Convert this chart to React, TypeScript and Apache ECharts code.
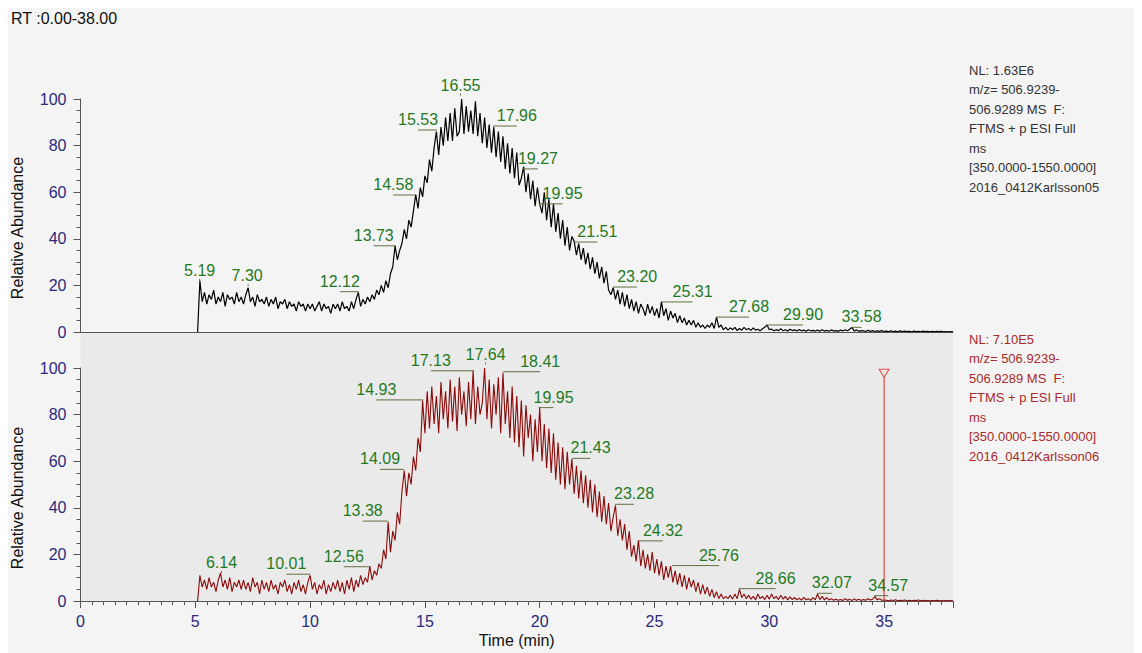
import React, { useEffect, useRef } from "react";
import * as echarts from "echarts";

// ---------------- DATA ----------------
// retention time sampling of the traces (minutes)
const RT_START = 5.1;
const RT_STEP = 0.1;

// Relative abundance, top chromatogram (Karlsson05), one row per minute (x.1 .. x+1.0)
const TOP_ABUNDANCE = [
  0, 22, 13, 17, 12, 16, 14, 18, 12, 15, // 5.1-6.0
  13, 17, 11, 16, 14, 15, 12, 17, 13, 15, // 6.1-7.0
  12, 16, 19, 13, 15, 11, 16, 13, 14, 12, // 7.1-8.0
  15, 11, 14, 12, 15, 10, 13, 12, 14, 10, // 8.1-9.0
  13, 11, 12, 9, 13, 11, 12, 9, 12, 10, // 9.1-10.0
  12, 9, 11, 13, 9, 12, 10, 11, 8, 12, // 10.1-11.0
  10, 12, 9, 13, 10, 11, 9, 13, 10, 14, // 11.1-12.0
  17, 11, 14, 12, 15, 13, 16, 14, 18, 16, // 12.1-13.0
  20, 17, 22, 19, 25, 28, 37, 31, 35, 38, // 13.1-14.0
  44, 40, 48, 45, 52, 59, 53, 62, 58, 67, // 14.1-15.0
  64, 74, 69, 79, 86, 76, 88, 80, 92, 82, // 15.1-16.0
  94, 82, 96, 84, 86, 100, 85, 97, 86, 95, // 16.1-17.0
  85, 99, 84, 94, 81, 92, 79, 89, 77, 88, // 17.1-18.0
  75, 86, 73, 84, 70, 81, 68, 79, 66, 77, // 18.1-19.0
  63, 66, 71, 60, 68, 57, 65, 54, 62, 55, // 19.1-20.0
  51, 60, 48, 57, 45, 55, 43, 51, 40, 48, // 20.1-21.0
  37, 45, 35, 41, 39, 33, 38, 31, 36, 29, // 21.1-22.0
  34, 27, 32, 25, 30, 23, 28, 21, 26, 18, // 22.1-23.0
  16, 19, 14, 18, 12, 17, 11, 16, 10, 14, // 23.1-24.0
  9, 13, 8, 12, 10, 7, 12, 8, 11, 7, // 24.1-25.0
  10, 6, 13, 7, 10, 5, 9, 6, 8, 4, // 25.1-26.0
  7, 4, 6, 3, 5, 3, 5, 2, 4, 2, // 26.1-27.0
  3, 1.5, 3, 2, 4, 1.5, 6.4, 2, 3, 1, // 27.1-28.0
  2, 0.8, 1.8, 1, 2, 0.6, 1.5, 0.8, 2, 1, // 28.1-29.0
  1.5, 0.7, 1.8, 0.8, 1.2, 0.5, 1.4, 2, 3, 1, // 29.1-30.0
  1.2, 0.5, 1, 0.6, 1.4, 0.5, 1, 0.4, 1.2, 0.6, // 30.1-31.0
  0.9, 0.4, 1.1, 0.5, 0.8, 0.3, 1, 0.5, 0.7, 0.4, // 31.1-32.0
  0.8, 0.3, 1, 0.4, 0.7, 0.3, 0.9, 0.5, 0.6, 0.3, // 32.1-33.0
  0.8, 0.4, 1, 0.5, 1.2, 2, 0.4, 0.9, 0.3, 0.6, // 33.1-34.0
  0.5, 0.2, 0.7, 0.3, 0.6, 0.2, 0.5, 0.3, 0.6, 0.2, // 34.1-35.0
  0.4, 0.2, 0.5, 0.2, 0.4, 0.1, 0.5, 0.2, 0.4, 0.2, // 35.1-36.0
  0.3, 0.1, 0.4, 0.2, 0.3, 0.1, 0.4, 0.2, 0.3, 0.1, // 36.1-37.0
  0.3, 0.1, 0.3, 0.2, 0.3, 0.1, 0.2, 0.1, 0.2, 0.1, // 37.1-38.0
];

// Relative abundance, bottom chromatogram (Karlsson06)
const BOTTOM_ABUNDANCE = [
  0, 11, 6, 9, 5, 10, 6, 8, 4, 9, // 5.1-6.0
  12, 6, 9, 5, 10, 4, 8, 6, 9, 5, // 6.1-7.0
  9, 5, 8, 4, 10, 6, 8, 3, 9, 5, // 7.1-8.0
  8, 4, 9, 5, 7, 3, 8, 6, 9, 4, // 8.1-9.0
  7, 3, 8, 5, 9, 4, 7, 3, 8, 11, // 9.1-10.0
  5, 8, 3, 7, 5, 9, 3, 7, 4, 8, // 10.1-11.0
  5, 9, 4, 8, 3, 9, 5, 10, 4, 9, // 11.1-12.0
  6, 11, 7, 10, 8, 15, 9, 13, 11, 16, // 12.1-13.0
  14, 22, 18, 34, 21, 30, 26, 38, 33, 47, // 13.1-14.0
  56, 45, 55, 50, 62, 56, 70, 64, 86, 72, // 14.1-15.0
  90, 74, 92, 76, 88, 72, 94, 78, 90, 74, // 15.1-16.0
  95, 77, 92, 73, 96, 80, 90, 75, 94, 78, // 16.1-17.0
  99, 76, 92, 80, 85, 100, 78, 95, 74, 93, // 17.1-18.0
  80, 96, 72, 98, 76, 90, 70, 92, 68, 88, // 18.1-19.0
  66, 86, 62, 84, 70, 80, 60, 78, 64, 83, // 19.1-20.0
  60, 76, 57, 74, 55, 72, 52, 68, 50, 66, // 20.1-21.0
  48, 64, 50, 61, 46, 58, 44, 56, 42, 54, // 21.1-22.0
  40, 52, 38, 50, 36, 47, 34, 45, 33, 42, // 22.1-23.0
  30, 36, 41, 28, 35, 26, 33, 22, 30, 19, // 23.1-24.0
  24, 17, 26, 15, 22, 14, 20, 13, 21, 12, // 24.1-25.0
  18, 11, 17, 9, 15, 10, 15, 8, 13, 7, // 25.1-26.0
  12, 6, 11, 5, 10, 6, 9, 4, 8, 3, // 26.1-27.0
  7, 3, 6, 2, 5, 1.5, 4, 1, 3, 1, // 27.1-28.0
  2, 1, 2.5, 0.8, 3, 1, 5, 1.5, 3, 1, // 28.1-29.0
  2.5, 0.8, 2, 0.5, 3, 1, 2, 0.6, 2.5, 0.8, // 29.1-30.0
  3, 1, 2, 0.6, 2.5, 0.8, 2, 0.5, 1.8, 0.6, // 30.1-31.0
  1.5, 0.5, 1.2, 0.4, 1.6, 0.5, 1, 0.3, 1.4, 0.5, // 31.1-32.0
  3, 0.6, 2, 0.5, 1.5, 0.4, 1, 0.3, 0.8, 0.3, // 32.1-33.0
  0.6, 0.2, 1, 0.3, 0.7, 0.2, 0.9, 0.3, 0.8, 0.2, // 33.1-34.0
  0.6, 0.3, 1, 0.4, 0.8, 2, 0.5, 1, 0.3, 0.4, // 34.1-35.0
  0.3, 0.1, 0.4, 0.2, 0.5, 0.1, 0.3, 0.2, 0.4, 0.1, // 35.1-36.0
  0.3, 0.1, 0.3, 0.2, 0.4, 0.1, 0.3, 0.1, 0.2, 0.1, // 36.1-37.0
  0.2, 0.1, 0.3, 0.1, 0.2, 0.1, 0.2, 0.1, 0.2, 0.1, // 37.1-38.0
];

// labelled peaks (RT, apex abundance)
const TOP_PEAK_RT = [5.19, 7.3, 12.12, 13.73, 14.58, 15.53, 16.55, 17.96, 19.27, 19.95, 21.51, 23.2, 25.31, 27.68, 29.9, 33.58];
const TOP_PEAK_ABUND = [21.9, 19.7, 17.3, 37, 58.8, 86.7, 101.5, 88.4, 70, 55, 38.6, 19.3, 12.9, 6.4, 3, 2];
const BOTTOM_PEAK_RT = [6.14, 10.01, 12.56, 13.38, 14.09, 14.93, 17.13, 17.64, 18.41, 19.95, 21.43, 23.28, 24.32, 25.76, 28.66, 32.07, 34.57];
const BOTTOM_PEAK_ABUND = [12, 11.5, 14.7, 34.3, 56.5, 86.3, 98.8, 101.5, 98.4, 83, 61.2, 41.5, 25.8, 15.2, 5.3, 3.3, 2.3];

// marker in the bottom trace
const MARKER_RT = 35;
const MARKER_ABUND = 96;

// header / info texts
const RANGE_TITLE = "RT :0.00-38.00";
const TOP_INFO = ["NL: 1.63E6", "m/z= 506.9239-", "506.9289 MS  F:", "FTMS + p ESI Full", "ms", "[350.0000-1550.0000]", "2016_0412Karlsson05"];
const BOTTOM_INFO = ["NL: 7.10E5", "m/z= 506.9239-", "506.9289 MS  F:", "FTMS + p ESI Full", "ms", "[350.0000-1550.0000]", "2016_0412Karlsson06"];
const Y_NAME = "Relative Abundance";
const X_NAME = "Time (min)";

// ---------------- STYLE ----------------
// horizontal pixel shift of each peak label from its apex (label placement only)
const TOP_LABEL_DX = [0, -1, -19, -22, -22, -19, 0, 24, 15, 24, 23, 24, 31, 33, 36, 10];
const BOTTOM_LABEL_DX = [0, -24, -25, -25, -24, -47, -43, 0, 37, 15, 18, 19, 24, 47, 37, 15, 14];

const FONT = "Arial, 'Liberation Sans', Helvetica, sans-serif";
const NAVY = "#2a2a7c";
const GREEN = "#1f7a1f";
const UNDERLINE = "#62703f";
const AXIS = "#555555";
const PANEL_BG = "#f4f4f4";
const LOWER_BG = "#eaeaea";
const TRACE_TOP = "#000000";
const TRACE_BOTTOM = "#8b0a0a";
const MARKER = "#e02828";
const INFO_TOP = "#333333";
const INFO_BOTTOM = "#a82a2a";

const GRID_LEFT = 72.5;
const GRID_W = 872.5;
const TOP_GRID_TOP = 91;
const BOTTOM_GRID_TOP = 360;
const GRID_H = 233;

function toSeries(values: number[]): number[][] {
  return values.map((v, i) => [Math.round((RT_START + i * RT_STEP) * 10) / 10, v]);
}

function labelSeries(rts: number[], vals: number[], dxs: number[], axisIdx: number) {
  return {
    type: "custom",
    xAxisIndex: axisIdx,
    yAxisIndex: axisIdx,
    clip: false,
    silent: true,
    z: 6,
    data: rts.map((r, i) => [r, vals[i]]),
    renderItem: (params: any, api: any) => {
      const p = api.coord([api.value(0), api.value(1)]);
      const dx = dxs[params.dataIndex];
      const text = rts[params.dataIndex].toFixed(2);
      const mark =
        Math.abs(dx) < 3
          ? { type: "line", shape: { x1: p[0], y1: p[1], x2: p[0], y2: p[1] - 2 }, style: { stroke: UNDERLINE, lineWidth: 1 } }
          : { type: "line", shape: { x1: p[0], y1: p[1], x2: p[0] + dx, y2: p[1] }, style: { stroke: UNDERLINE, lineWidth: 1 } };
      return {
        type: "group",
        children: [
          mark,
          {
            type: "text",
            x: p[0] + dx,
            y: p[1] - 10.5,
            style: { text, fill: GREEN, fontSize: 16, fontFamily: FONT, align: "center", verticalAlign: "middle" },
          },
        ],
      };
    },
  };
}

function yAxis(gridIndex: number) {
  return {
    type: "value",
    gridIndex,
    min: 0,
    max: 100,
    interval: 20,
    axisLine: { show: true, lineStyle: { color: AXIS, width: 1 } },
    axisTick: { show: true, length: 7, lineStyle: { color: AXIS } },
    minorTick: { show: true, splitNumber: 4, length: 4, lineStyle: { color: AXIS } },
    axisLabel: { color: NAVY, fontSize: 16, fontFamily: FONT, margin: 14 },
    splitLine: { show: false },
    minorSplitLine: { show: false },
  };
}

export default function App() {
  const ref = useRef<HTMLDivElement>(null);

  useEffect(() => {
    if (!ref.current) return;
    const chart = echarts.init(ref.current, undefined, { renderer: "svg" });

    const infoTexts: any[] = [];
    TOP_INFO.forEach((t, i) =>
      infoTexts.push({
        type: "text",
        x: 961,
        y: 62 + i * 19.5,
        style: { text: t, fill: INFO_TOP, fontSize: 13, fontFamily: FONT, align: "left", verticalAlign: "middle" },
      })
    );
    BOTTOM_INFO.forEach((t, i) =>
      infoTexts.push({
        type: "text",
        x: 961,
        y: 331 + i * 19.5,
        style: { text: t, fill: INFO_BOTTOM, fontSize: 13, fontFamily: FONT, align: "left", verticalAlign: "middle" },
      })
    );

    const option: any = {
      animation: false,
      backgroundColor: PANEL_BG,
      grid: [
        { left: GRID_LEFT, top: TOP_GRID_TOP, width: GRID_W, height: GRID_H },
        { left: GRID_LEFT, top: BOTTOM_GRID_TOP, width: GRID_W, height: GRID_H },
      ],
      xAxis: [
        {
          type: "value",
          gridIndex: 0,
          min: 0,
          max: 38,
          interval: 5,
          axisLine: { show: true, onZero: false, lineStyle: { color: AXIS, width: 1 } },
          axisTick: { show: false },
          axisLabel: { show: false },
          splitLine: { show: false },
        },
        {
          type: "value",
          gridIndex: 1,
          min: 0,
          max: 38,
          interval: 5,
          axisLine: { show: true, onZero: false, lineStyle: { color: AXIS, width: 1 } },
          axisTick: { show: true, length: 7, lineStyle: { color: AXIS } },
          minorTick: { show: true, splitNumber: 10, length: 4, lineStyle: { color: AXIS } },
          axisLabel: { color: NAVY, fontSize: 16, fontFamily: FONT, margin: 12, showMaxLabel: false },
          splitLine: { show: false },
          minorSplitLine: { show: false },
        },
      ],
      yAxis: [yAxis(0), yAxis(1)],
      graphic: [
        {
          type: "rect",
          z: -10,
          silent: true,
          shape: { x: GRID_LEFT, y: 325, width: GRID_W, height: 268 },
          style: { fill: LOWER_BG },
        },
        {
          type: "text",
          x: 3,
          y: 10.5,
          style: { text: RANGE_TITLE, fill: "#111", fontSize: 16, fontFamily: FONT, align: "left", verticalAlign: "middle" },
        },
        {
          type: "text",
          x: 9,
          y: 220,
          rotation: Math.PI / 2,
          style: { text: Y_NAME, fill: "#111", fontSize: 16, fontFamily: FONT, align: "center", verticalAlign: "middle" },
        },
        {
          type: "text",
          x: 9,
          y: 490,
          rotation: Math.PI / 2,
          style: { text: Y_NAME, fill: "#111", fontSize: 16, fontFamily: FONT, align: "center", verticalAlign: "middle" },
        },
        {
          type: "text",
          x: GRID_LEFT + GRID_W / 2,
          y: 632,
          style: { text: X_NAME, fill: "#111", fontSize: 16, fontFamily: FONT, align: "center", verticalAlign: "middle" },
        },
        ...infoTexts,
      ],
      series: [
        {
          type: "line",
          xAxisIndex: 0,
          yAxisIndex: 0,
          data: toSeries(TOP_ABUNDANCE),
          showSymbol: false,
          symbol: "none",
          lineStyle: { color: TRACE_TOP, width: 1.2 },
          itemStyle: { color: TRACE_TOP },
          z: 3,
        },
        {
          type: "line",
          xAxisIndex: 1,
          yAxisIndex: 1,
          data: toSeries(BOTTOM_ABUNDANCE),
          showSymbol: false,
          symbol: "none",
          lineStyle: { color: TRACE_BOTTOM, width: 1.1 },
          itemStyle: { color: TRACE_BOTTOM },
          z: 3,
        },
        {
          type: "line",
          xAxisIndex: 1,
          yAxisIndex: 1,
          data: [
            [MARKER_RT, 0],
            [MARKER_RT, MARKER_ABUND],
          ],
          showSymbol: false,
          symbol: "none",
          lineStyle: { color: MARKER, width: 1 },
          z: 4,
        },
        {
          type: "scatter",
          xAxisIndex: 1,
          yAxisIndex: 1,
          data: [[MARKER_RT, MARKER_ABUND]],
          symbol: "triangle",
          symbolRotate: 180,
          symbolSize: [10, 8],
          symbolOffset: [0, -4],
          itemStyle: { color: "rgba(0,0,0,0)", borderColor: MARKER, borderWidth: 1 },
          z: 5,
        },
        labelSeries(TOP_PEAK_RT, TOP_PEAK_ABUND, TOP_LABEL_DX, 0),
        labelSeries(BOTTOM_PEAK_RT, BOTTOM_PEAK_ABUND, BOTTOM_LABEL_DX, 1),
      ],
    };

    chart.setOption(option);
    return () => chart.dispose();
  }, []);

  return <div ref={ref} style={{ position: "absolute", left: 8, top: 8, width: 1126, height: 645 }} />;
}
